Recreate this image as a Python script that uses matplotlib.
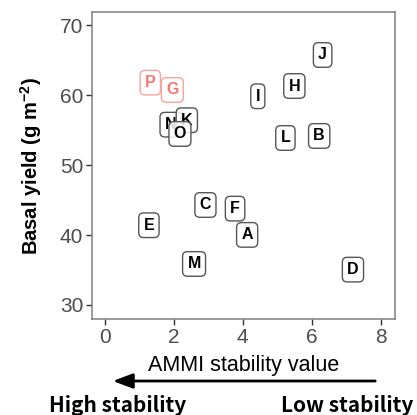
import matplotlib
matplotlib.use('Agg')
import matplotlib.pyplot as plt

plt.rcParams['font.family'] = ['Liberation Sans', 'DejaVu Sans']
plt.rcParams['mathtext.default'] = 'regular'

# data (drawing order: later ones on top)
genotypes = ['A', 'B', 'C', 'D', 'E', 'F', 'G', 'H', 'I', 'J', 'L', 'M', 'N', 'K', 'O', 'P']
asv = [4.13, 6.22, 2.92, 7.20, 1.28, 3.78, 1.96, 5.50, 4.44, 6.32, 5.24, 2.59, 1.91, 2.38, 2.18, 1.32]
basal_yield = [40.03, 54.19, 44.31, 35.06, 41.41, 43.79, 60.77, 61.34, 59.87, 65.78, 53.90, 35.87, 55.81, 56.44, 54.48, 61.82]
highlight = ['P', 'G']

x_ticks = [0, 2, 4, 6, 8]
y_ticks = [30, 40, 50, 60, 70]

W, H = 417, 415
fig = plt.figure(figsize=(W / 100, H / 100), dpi=100)
ax = fig.add_axes([91.7 / W, 1 - 319.3 / H, (395 - 91.7) / W, (319.3 - 12.5) / H])

for g, xv, yv in zip(genotypes, asv, basal_yield):
    if g in highlight:
        col, ec = '#F8766D', '#F8A39D'
    else:
        col, ec = 'black', '#555555'
    ax.text(xv, yv, g, ha='center', va='center', fontsize=11.5, fontweight='bold', color=col,
            bbox=dict(boxstyle='round,pad=0.3,rounding_size=0.3', fc=(1, 1, 1, 0.85), ec=ec, lw=1.0))

ax.set_xlim(-0.38, 8.42)
ax.set_ylim(27.95, 71.86)
ax.set_xticks(x_ticks)
ax.set_yticks(y_ticks)
ax.tick_params(length=4, width=1, color='#333333', labelcolor='#4D4D4D', labelsize=15, pad=2)
for s in ax.spines.values():
    s.set_color('#7F7F7F')
    s.set_linewidth(1.1)

ax.set_xlabel('AMMI stability value', fontsize=15.5)
ax.set_ylabel('Basal yield (g m$^{-2}$)', fontsize=14.5, fontweight='bold')
ax.xaxis.label.set_va('center')
ax.yaxis.label.set_va('center')
ax.xaxis.set_label_coords(0.5, (319.3 - 365) / 306.8)
ax.yaxis.set_label_coords((31 - 91.7) / 303.3, 0.5)

# arrow and stability annotations
fig.patches.append(matplotlib.patches.FancyArrowPatch(
    (378 / W, 1 - 381 / H), (110 / W, 1 - 381 / H), transform=fig.transFigure,
    arrowstyle='-|>,head_length=12,head_width=4.5', mutation_scale=1, color='black', lw=2))
fig.text(117.5 / W, 1 - 405 / H, 'High stability', ha='center', va='center', fontsize=15,
         fontweight='bold', family=['Noto Sans CJK JP', 'DejaVu Sans'])
fig.text(347.5 / W, 1 - 405 / H, 'Low stability', ha='center', va='center', fontsize=15,
         fontweight='bold', family=['Noto Sans CJK JP', 'DejaVu Sans'])

fig.savefig('out.png', dpi=100)
